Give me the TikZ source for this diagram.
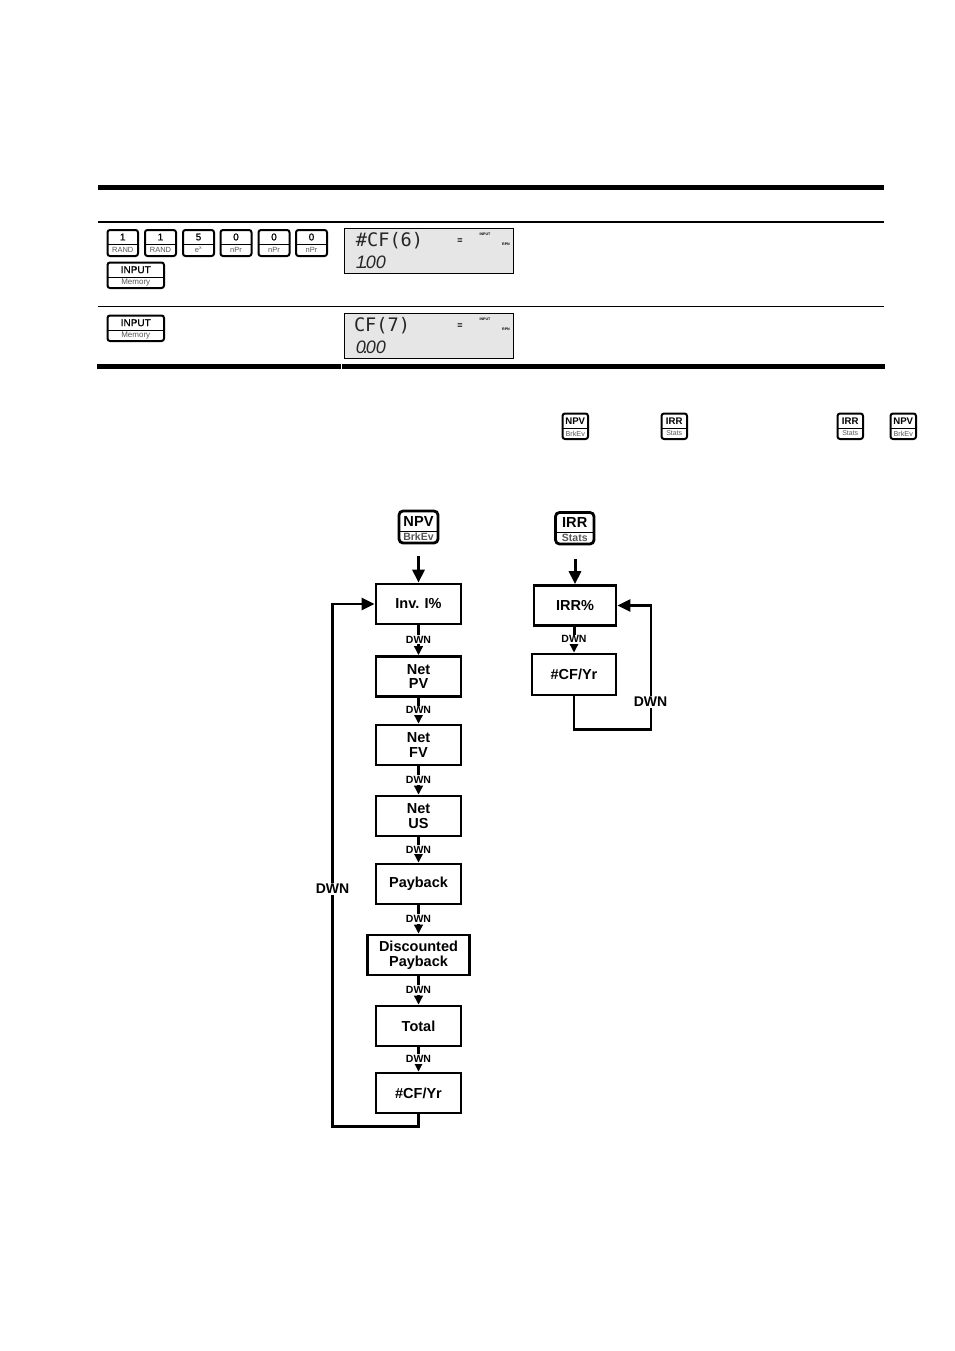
\documentclass[tikz,border=0pt]{standalone}
\usepackage{fontspec}
\setmainfont{Liberation Sans}
\newfontfamily\lcdmono{DejaVu Sans Mono}
\newfontfamily\keyfont[FakeBold=0.6]{Liberation Sans}
\usetikzlibrary{arrows.meta,fit,calc}
\newcommand{\fsz}[1]{\fontsize{#1}{#1}\selectfont}
\definecolor{lcdgray}{HTML}{E6E6E6}
\definecolor{subgray}{HTML}{555555}
\tikzset{
  x=1pt,y=-1pt,
  keycap/.style={draw=black,line width=2pt,rounded corners=2.5pt,inner sep=0pt,fit={#1}},
  keycapbig/.style={draw=black,line width=2.8pt,rounded corners=4pt,inner sep=0pt,fit={#1}},
  flowbox/.style={draw=black,line width=2.7pt,minimum height=40pt,minimum width=85pt,inner sep=0pt,align=center,
     font=\fsz{14.5}\bfseries},
  bigarrow/.style={line width=3pt,-{Triangle[length=13pt,width=12pt]}},
  smallarrow/.style={line width=3pt,-{Triangle[length=9pt,width=8.5pt]}},
  dwnlabel/.style={fill=white,inner sep=1pt,font=\fsz{10.5}\bfseries},
  biglabel/.style={fill=white,inner sep=1pt,font=\fsz{14}\bfseries},
  looppath/.style={line width=2.7pt,line join=miter},
  lcdpanel/.style={draw=black,line width=1pt,fill=lcdgray,inner sep=0pt,fit={#1}},
  lcdbig/.style={font=\lcdmono\fsz{18.6},text=black!85,inner sep=0pt},
  lcdnum/.style={font=\fsz{18}\itshape,text=black!85,inner sep=0pt,anchor=east},
  lcdtiny/.style={font=\fsz{3.6}\bfseries,inner sep=0pt},
  lcdeq/.style={font=\fsz{9}\bfseries,inner sep=0pt},
}
% name, x1, y1, x2, y2, ydiv, top, bottom
\newcommand{\calckey}[8]{%
  \coordinate (#1-tl) at (#2,#3);
  \coordinate (#1-br) at (#4,#5);
  \node[keycap={(#1-tl)(#1-br)}] (#1) {};
  \coordinate (#1-dl) at (#2,#6);
  \coordinate (#1-dr) at (#4,#6);
  \draw[line width=0.9pt] (#1-dl) -- (#1-dr);
  \node[inner sep=0pt] (#1-top) at ($(#1-tl)!0.5!(#1-dr)$) {#7};
  \node[inner sep=0pt,text=subgray] (#1-bot) at ($(#1-dl)!0.5!(#1-br)$) {#8};
}
\newcommand{\calckeybig}[8]{%
  \coordinate (#1-tl) at (#2,#3);
  \coordinate (#1-br) at (#4,#5);
  \node[keycapbig={(#1-tl)(#1-br)}] (#1) {};
  \coordinate (#1-dl) at (#2,#6);
  \coordinate (#1-dr) at (#4,#6);
  \draw[line width=1pt] (#1-dl) -- (#1-dr);
  \node[inner sep=0pt] (#1-top) at ($(#1-tl)!0.5!(#1-dr)$) {#7};
  \node[inner sep=0pt,text=subgray] (#1-bot) at ($(#1-dl)!0.5!(#1-br)$) {#8};
}
\begin{document}
\begin{tikzpicture}
\useasboundingbox (0,0) rectangle (954,1351);
% table rules
\fill (98,185) rectangle (884,190);
\fill (98,221) rectangle (884,223);
\fill (98,306) rectangle (884,307);
\fill (97,364) rectangle (341,369);
\fill (342,364) rectangle (885,369);
% keys row 1
\calckey{k1}{107.5}{230}{138}{256}{244}{\keyfont\fsz{10}1}{\fsz{7.5}RAND}
\calckey{k2}{145}{230}{176}{256}{244}{\keyfont\fsz{10}1}{\fsz{7.5}RAND}
\calckey{k3}{183}{230}{214}{256}{244}{\keyfont\fsz{10}5}{\fsz{7.5}e\textsuperscript{x}}
\calckey{k4}{220.5}{230}{251.5}{256}{244}{\keyfont\fsz{10}0}{\fsz{7.5}nPr}
\calckey{k5}{258.5}{230}{289.5}{256}{244}{\keyfont\fsz{10}0}{\fsz{7.5}nPr}
\calckey{k6}{296}{230}{327}{256}{244}{\keyfont\fsz{10}0}{\fsz{7.5}nPr}
\calckey{k7}{107.5}{262.5}{164}{288}{277}{\keyfont\fsz{10}INPUT}{\fsz{8}Memory}
\calckey{k8}{107.5}{315.5}{164}{341}{330}{\keyfont\fsz{10}INPUT}{\fsz{8}Memory}
% LCD 1
\coordinate (l1a) at (344.5,228.5);
\coordinate (l1b) at (513.5,273.5);
\node[lcdpanel={(l1a)(l1b)}] (lcd1) {};
\node[lcdbig] (l1t) at (389.5,241) {\#CF(6)};
\node[lcdeq] (l1e) at (460,241) {=};
\node[lcdtiny] (l1i) at (485,234) {INPUT};
\node[lcdtiny] (l1r) at (506,244.5) {RPN};
\node[lcdnum] (l1n) at (386,262) {1\kern-2.5pt.\kern-2.5pt00};
% LCD 2
\coordinate (l2a) at (344.5,313.5);
\coordinate (l2b) at (513.5,358.5);
\node[lcdpanel={(l2a)(l2b)}] (lcd2) {};
\node[lcdbig] (l2t) at (382,326) {CF(7)};
\node[lcdeq] (l2e) at (460,326) {=};
\node[lcdtiny] (l2i) at (485,319) {INPUT};
\node[lcdtiny] (l2r) at (506,329.5) {RPN};
\node[lcdnum] (l2n) at (386,347) {0\kern-2.5pt.\kern-2.5pt00};
% inline keys
\calckey{i1}{562.5}{413.5}{588}{439}{428}{\fsz{9.6}\bfseries NPV}{\fsz{7.2}BrkEv}
\calckey{i2}{661.5}{413.5}{687}{439}{428}{\fsz{9.6}\bfseries IRR}{\fsz{7}Stats}
\calckey{i3}{837.5}{413.5}{863}{439}{428}{\fsz{9.6}\bfseries IRR}{\fsz{7}Stats}
\calckey{i4}{890.5}{413.5}{916}{439}{428}{\fsz{9.6}\bfseries NPV}{\fsz{7.2}BrkEv}
% flow keys
\calckeybig{npv}{399}{511}{438}{543}{531}{\fsz{14.6}\bfseries NPV}{\fsz{10.5}\bfseries BrkEv}
\calckeybig{irr}{555.5}{512.5}{594}{544}{532}{\fsz{14.6}\bfseries IRR}{\fsz{10.5}\bfseries Stats}
% NPV column
\node[flowbox] (inv) at (418.5,604) {Inv. I\%};
\node[flowbox] (pv) at (418.5,676.5) {Net\\PV};
\node[flowbox] (fv) at (418.5,745) {Net\\FV};
\node[flowbox] (us) at (418.5,816) {Net\\US};
\node[flowbox] (pay) at (418.5,884) {Payback};
\node[flowbox,minimum width=102pt] (disc) at (418.5,955) {Discounted\\Payback};
\node[flowbox] (tot) at (418.5,1026) {Total};
\node[flowbox] (cf) at (418.5,1093) {\#CF/Yr};
% IRR column
\node[flowbox,minimum width=82pt] (irrp) at (575,605.5) {IRR\%};
\node[flowbox,minimum width=84pt,minimum height=41pt] (cfb) at (574,674.5) {\#CF/Yr};
% connectors
\draw[bigarrow] (inv.north |- npv.south) ++(0,12) -- (inv.north);
\draw[bigarrow] (irrp.north |- irr.south) ++(0,14) -- (irrp.north);
\draw[smallarrow] (inv) -- node[dwnlabel,pos=0.48] (d1) {DWN} (pv);
\draw[smallarrow] (pv) -- node[dwnlabel,pos=0.48] (d2) {DWN} (fv);
\draw[smallarrow] (fv) -- node[dwnlabel,pos=0.48] (d3) {DWN} (us);
\draw[smallarrow] (us) -- node[dwnlabel,pos=0.48] (d4) {DWN} (pay);
\draw[smallarrow] (pay) -- node[dwnlabel,pos=0.48] (d5) {DWN} (disc);
\draw[smallarrow] (disc) -- node[dwnlabel,pos=0.48] (d6) {DWN} (tot);
\draw[smallarrow] (tot) -- node[dwnlabel,pos=0.48] (d7) {DWN} (cf);
\draw[smallarrow] (irrp.south -| cfb.south) -- node[dwnlabel,pos=0.48] (d8) {DWN} (cfb.north);
\coordinate (lb) at (332.5,1126.5);
\coordinate (lt) at (332.5,604);
\coordinate (rb) at (651,729.5);
\coordinate (rt) at (651,605.5);
\draw[looppath] (cf.south) -- (cf.south |- lb) -- (lb) -- (lt) -- ++(26,0);
\draw[bigarrow,line width=2.7pt] (lt) ++(25,0) -- (inv.west);
\draw[looppath] (cfb.south) -- (cfb.south |- rb) -- (rb) -- (rt) -- ++(-16,0);
\draw[bigarrow,line width=2.7pt] (rt) ++(-15,0) -- (irrp.east);
\node[biglabel] (dl) at (332.5,889) {DWN};
\node[biglabel] (dr) at (650.5,702) {DWN};
\end{tikzpicture}
\end{document}
